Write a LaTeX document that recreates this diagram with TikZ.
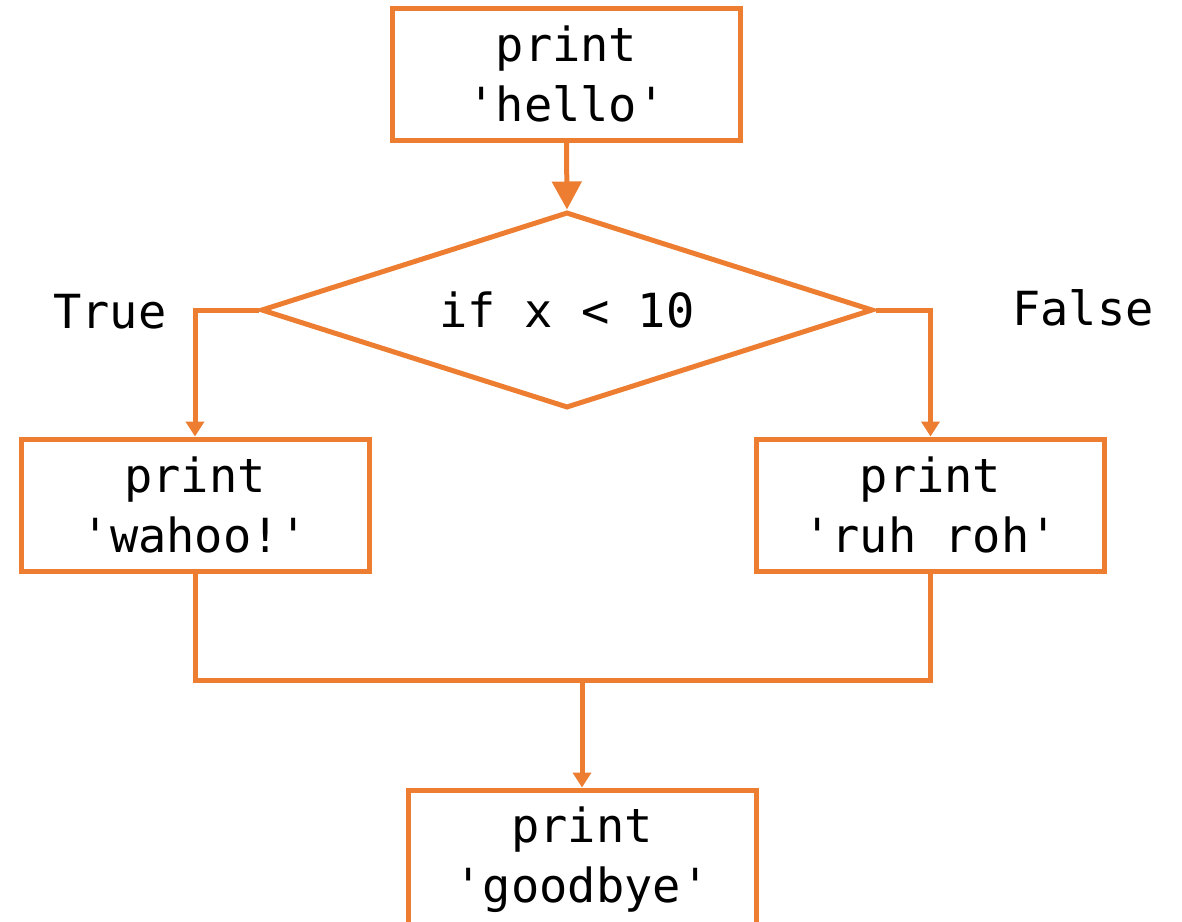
\documentclass[tikz,border=0pt]{standalone}
\usepackage{fontspec}
\newfontfamily\codefont{DejaVu Sans Mono}
\usetikzlibrary{shapes.geometric,arrows.meta}
\definecolor{flow}{RGB}{237,125,49}

\begin{document}
\begin{tikzpicture}[x=0.5pt,y=0.5pt,yscale=-1,xscale=1,
  every node/.style={font=\codefont\fontsize{23.5}{30}\selectfont, align=center},
  stepbox/.style={draw=flow, line width=2.5pt, fill=white, minimum width=174pt, minimum height=66pt, inner sep=0pt},
  testbox/.style={draw=flow, line width=2.5pt, shape=diamond, aspect=3, minimum width=306pt, minimum height=98pt, inner sep=0pt},
  link/.style={draw=flow, line width=2.5pt},
  arr/.style={link, -{Triangle[width=9pt,length=7.5pt]}}]

\useasboundingbox (0,0) rectangle (1182,921);

\node[stepbox] (hello) at (566.5, 74) {print\\'hello'};
\node[testbox] (test) at (567, 310) {if x < 10};
\node[stepbox] (wahoo) at (195, 505) {print\\'wahoo!'};
\node[stepbox] (ruhroh) at (930.5, 505) {print\\'ruh roh'};
\node[stepbox, minimum height=70pt] (goodbye) at (582, 860) {print\\'goodbye'};

\node (true) at (110, 312) {True};
\node (false) at (1083, 308) {False};

\coordinate (join) at (582, 680);

\draw [link, -{Triangle[width=14.5pt,length=14pt]}] (hello.south) -- (test.north);
\draw [arr] (test.west) -| (wahoo.north);
\draw [arr] (test.east) -| (ruhroh.north);
\draw [link] (wahoo.south) |- (join) -| (ruhroh.south);
\draw [arr] (join) -- (goodbye.north);

\end{tikzpicture}
\end{document}
